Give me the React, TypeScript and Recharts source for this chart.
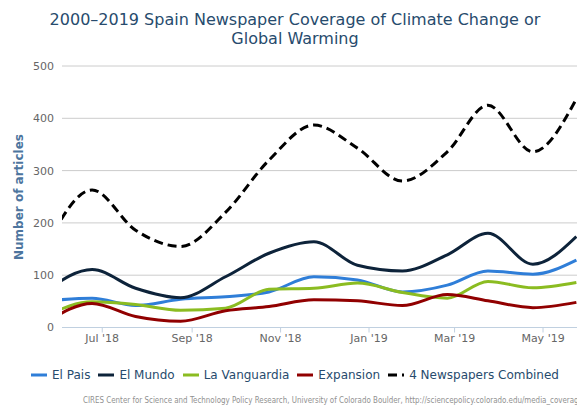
import { LineChart, Line, XAxis, YAxis, CartesianGrid } from 'recharts';

// monthly points (the first one sits left of the visible window)
const pointDates = [
  '2018-05-24', '2018-06-24', '2018-07-24', '2018-08-24', '2018-09-24', '2018-10-24', '2018-11-24',
  '2018-12-24', '2019-01-24', '2019-02-24', '2019-03-24', '2019-04-24', '2019-05-24',
];
const elPais = [51, 56, 42, 54, 59, 68, 97, 91, 68, 81, 108, 102, 129];
const elMundo = [72, 111, 75, 57, 97, 142, 164, 119, 108, 139, 180, 121, 174];
const laVanguardia = [24, 49, 44, 33, 37, 73, 75, 85, 67, 56, 88, 76, 86];
const expansion = [11, 46, 21, 12, 32, 40, 53, 51, 42, 63, 51, 38, 48];
const combined = [160, 263, 186, 155, 220, 320, 387, 343, 280, 336, 425, 336, 437];

const tickDates = ['2018-07-01', '2018-09-01', '2018-11-01', '2019-01-01', '2019-03-01', '2019-05-01'];
const tickLabels = ["Jul '18", "Sep '18", "Nov '18", "Jan '19", "Mar '19", "May '19"];
const yTicks = [0, 100, 200, 300, 400, 500];
const viewRange = ['2018-06-03T06:00:00Z', '2019-05-26T12:00:00Z'];

const series = [
  { key: 'elPais', name: 'El Pais', color: '#2f7ed8', dash: undefined as string | undefined },
  { key: 'elMundo', name: 'El Mundo', color: '#0d233a', dash: undefined },
  { key: 'laVanguardia', name: 'La Vanguardia', color: '#8bbc21', dash: undefined },
  { key: 'expansion', name: 'Expansion', color: '#910000', dash: undefined },
  { key: 'combined', name: '4 Newspapers Combined', color: '#000000', dash: '9 5' },
];

const ts = (d: string) => Date.parse(d.length === 10 ? d + 'T00:00:00Z' : d);

const rows = pointDates.map((d, i) => ({
  t: ts(d),
  elPais: elPais[i],
  elMundo: elMundo[i],
  laVanguardia: laVanguardia[i],
  expansion: expansion[i],
  combined: combined[i],
}));

const tickValues = tickDates.map(ts);
const fmtTick = (v: number) => {
  const idx = tickValues.indexOf(v);
  return idx >= 0 ? tickLabels[idx] : '';
};

const FONT = '"DejaVu Sans", "Lucida Grande", Verdana, sans-serif';

export default function App() {
  return (
    <div
      style={{
        position: 'fixed',
        left: 0,
        top: 0,
        width: 577,
        height: 406,
        overflow: 'hidden',
        background: '#fff',
        fontFamily: FONT,
      }}
    >
      <div style={{ position: 'relative', width: 590, height: 406 }}>
        <LineChart width={590} height={406} data={rows} margin={{ top: 66, right: 10, bottom: 48.5, left: 0 }}>
          <CartesianGrid horizontal vertical={false} stroke="#cccccc" />
          <XAxis
            dataKey="t"
            type="number"
            domain={[ts(viewRange[0]), ts(viewRange[1])]}
            allowDataOverflow
            ticks={tickValues}
            tickFormatter={fmtTick}
            height={30}
            tickSize={5}
            tickMargin={2}
            stroke="#C0D0E0"
            tick={{ fill: '#666666', fontSize: 11 }}
          />
          <YAxis
            domain={[0, 500]}
            ticks={yTicks}
            width={62}
            axisLine={false}
            tickLine={false}
            tickSize={0}
            tickMargin={8}
            tick={{ fill: '#666666', fontSize: 11 }}
          />
          {series.map((s) => (
            <Line
              key={s.key}
              dataKey={s.key}
              name={s.name}
              type="monotone"
              stroke={s.color}
              strokeWidth={3}
              strokeDasharray={s.dash}
              dot={false}
              activeDot={false}
              isAnimationActive={false}
            />
          ))}
        </LineChart>

        {/* title */}
        <div
          style={{
            position: 'absolute',
            left: 0,
            top: 10,
            width: 590,
            textAlign: 'center',
            fontSize: 16,
            lineHeight: '19px',
            color: '#274b6d',
          }}
        >
          2000–2019 Spain Newspaper Coverage of Climate Change or
          <br />
          Global Warming
        </div>

        {/* y axis title */}
        <div
          style={{
            position: 'absolute',
            left: 19,
            top: 196.5,
            transform: 'translate(-50%, -50%) rotate(-90deg)',
            whiteSpace: 'nowrap',
            fontSize: 12,
            fontWeight: 'bold',
            color: '#4d759e',
          }}
        >
          Number of articles
        </div>

        {/* legend */}
        <div
          style={{
            position: 'absolute',
            left: 0,
            top: 368,
            width: 590,
            height: 14,
            display: 'flex',
            justifyContent: 'center',
            alignItems: 'center',
            fontSize: 12,
            lineHeight: '14px',
            color: '#274b6d',
          }}
        >
          {series.map((s, i) => (
            <div key={s.key} style={{ display: 'flex', alignItems: 'center', marginLeft: i === 0 ? 0 : 8 }}>
              <svg width={16} height={6} style={{ marginRight: 5 }}>
                <line x1={0} y1={3} x2={16} y2={3} stroke={s.color} strokeWidth={3} strokeDasharray={s.dash} />
              </svg>
              <span>{s.name}</span>
            </div>
          ))}
        </div>

        {/* credits */}
        <svg style={{ position: 'absolute', left: 0, top: 0 }} width={590} height={406}>
          <text
            x={83}
            y={403}
            fontSize={9}
            fill="#909090"
            textLength={500}
            lengthAdjust="spacingAndGlyphs"
          >
            CIRES Center for Science and Technology Policy Research, University of Colorado Boulder, http://sciencepolicy.colorado.edu/media_coverage
          </text>
        </svg>
      </div>
    </div>
  );
}
